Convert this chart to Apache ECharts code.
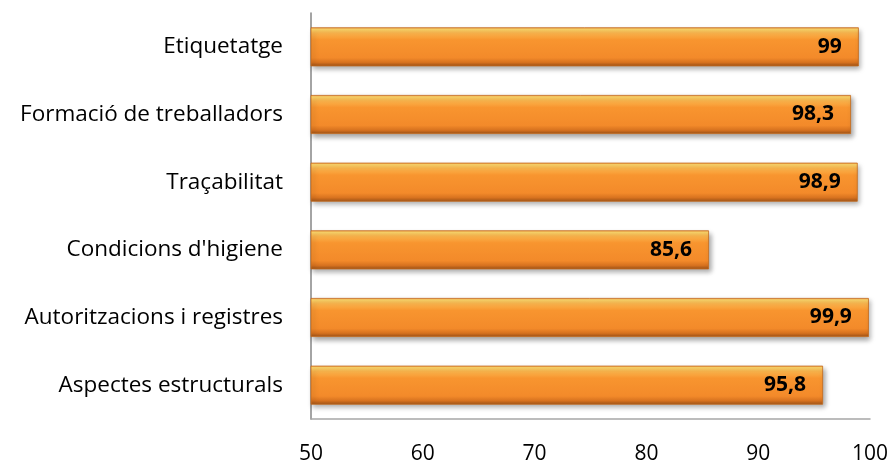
<!DOCTYPE html>
<html><head><meta charset="utf-8">
<script src="https://cdn.jsdelivr.net/npm/echarts@6/dist/echarts.min.js"></script>
<style>html,body{margin:0;padding:0;background:#fff}#c{width:892px;height:465px}</style>
</head><body><div id="c"></div>
<script>
const categories = ["Aspectes estructurals","Autoritzacions i registres","Condicions d'higiene","Traçabilitat","Formació de treballadors","Etiquetatge"];
const values = [95.8, 99.9, 85.6, 98.9, 98.3, 99];
const xTicks = [50, 60, 70, 80, 90, 100];

const chart = echarts.init(document.getElementById('c'));
const barColor = new echarts.graphic.LinearGradient(0,0,0,1,[
  {offset:0, color:'#f5a04a'},
  {offset:0.05, color:'#fdd66a'},
  {offset:0.15, color:'#fbb44c'},
  {offset:0.32, color:'#f8952f'},
  {offset:0.78, color:'#f38a2a'},
  {offset:0.9, color:'#d7721f'},
  {offset:1, color:'#9c5218'}
]);
chart.setOption({
  animation:false,
  grid:{left:311, right:22, top:13, bottom:44, containLabel:false},
  xAxis:{type:'value', min:xTicks[0], max:xTicks[xTicks.length-1], interval:10,
    axisLine:{show:true, lineStyle:{color:'#a6a6a6', width:1.5}},
    axisTick:{show:false}, splitLine:{show:false},
    axisLabel:{color:'#000', fontSize:21, fontFamily:'Open Sans', margin:25}},
  yAxis:{type:'category', data:categories,
    axisLine:{show:true, lineStyle:{color:'#868686', width:1.5}},
    axisTick:{show:false},
    axisLabel:{color:'#000', fontSize:22.5, fontFamily:'Open Sans', margin:28}},
  series:[{type:'bar', data:values, barWidth:39,
    itemStyle:{color:barColor, borderColor:'#c46a1c', borderWidth:0.8,
      shadowColor:'rgba(0,0,0,0.35)', shadowBlur:5, shadowOffsetX:2, shadowOffsetY:3},
    label:{show:true, position:'insideRight', distance:17, color:'#000', fontWeight:'bold',
      fontSize:21, fontFamily:'Open Sans',
      formatter:p=>String(p.value).replace('.',',')}
  }]
});
</script></body></html>
